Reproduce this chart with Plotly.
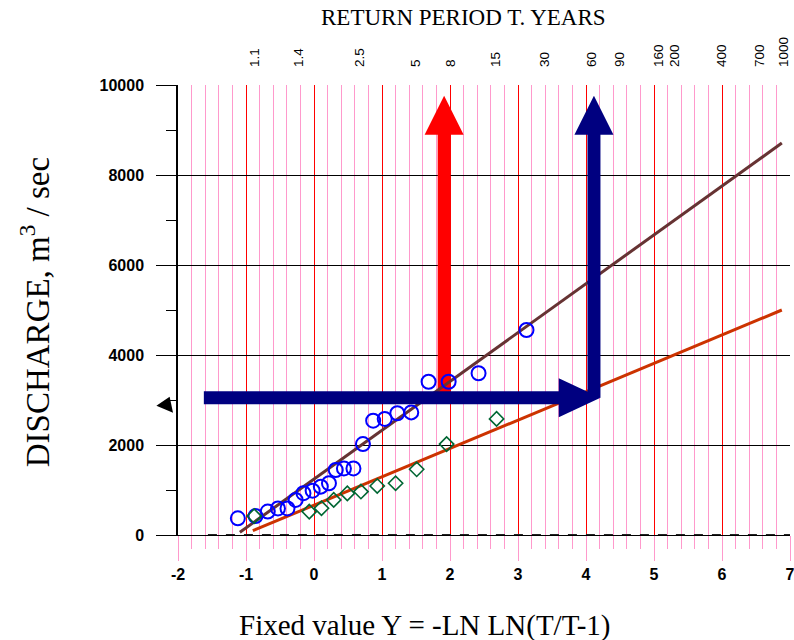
import math
import plotly.graph_objects as go

# Observed annual maximum floods: Gumbel reduced variate Y and discharge (m3/s)
obs_y = [-1.12, -0.86, -0.68, -0.53, -0.39, -0.27, -0.155, -0.02, 0.10, 0.22, 0.32,
         0.44, 0.58, 0.72, 0.87, 1.04, 1.225, 1.43, 1.685, 1.98, 2.42, 3.125]
obs_q = [370, 420, 520, 590, 590, 780, 930, 985, 1075, 1150, 1445,
         1480, 1480, 2020, 2540, 2580, 2705, 2725, 3405, 3405, 3595, 4555]

# Second series of annual maxima
alt_y = [-0.88, -0.07, 0.11, 0.29, 0.49, 0.69, 0.93, 1.20, 1.51, 1.95, 2.685]
alt_q = [420, 520, 595, 780, 925, 965, 1090, 1150, 1460, 2020, 2580]

# Fitted Gumbel lines (end points)
fit_obs_y = [-1.09, 6.88]
fit_obs_q = [60, 8710]
fit_alt_y = [-0.90, 6.88]
fit_alt_q = [95, 5000]

# Dashed base line along zero discharge
base_y = [-1.56, 7.0]
base_q = [0, 0]

# Return periods shown on the top axis
return_periods = [1.1, 1.4, 2.5, 5, 8, 15, 30, 60, 90, 160, 200, 400, 700, 1000]
return_labels = ["1.1", "1.4", "2.5", "5", "8", "15", "30", "60", "90", "160", "200", "400", "700", "1000"]

# Reading arrows: design discharge and the reduced variates
design_q = 3050
read_start_y = -1.62
read_obs_y = 1.914
read_alt_y = 4.117
arrow_top_q = 9760

x_ticks = [-2, -1, 0, 1, 2, 3, 4, 5, 6, 7]
x_ticktext = ["-2", "-1", "0", "1", "2", "3", "4", "5", "6", "7"]
y_ticks = [0, 2000, 4000, 6000, 8000, 10000]
y_ticktext = ["0", "2000", "4000", "6000", "8000", "10000"]

X_RANGE = [-2, 7]
Y_RANGE = [0, 10000]

PINK = "#ff99cc"
RED = "#ff0000"
NAVY = "#000080"
SERIF = "Liberation Serif"
SANS = "Liberation Sans"

def gumbel_variate(T):
    return -math.log(-math.log(1.0 - 1.0 / T))

fig = go.Figure()

fig.add_trace(go.Scatter(x=base_y, y=base_q, mode="lines",
                         line=dict(color="#222222", width=2, dash="dash"),
                         hoverinfo="skip"))
fig.add_trace(go.Scatter(x=fit_obs_y, y=fit_obs_q, mode="lines",
                         line=dict(color="#663333", width=3)))
fig.add_trace(go.Scatter(x=fit_alt_y, y=fit_alt_q, mode="lines",
                         line=dict(color="#cc3300", width=3)))
fig.add_trace(go.Scatter(x=obs_y, y=obs_q, mode="markers",
                         marker=dict(symbol="circle-open", size=14, color="#0000ff",
                                     line=dict(width=2, color="#0000ff"))))
fig.add_trace(go.Scatter(x=alt_y, y=alt_q, mode="markers",
                         marker=dict(symbol="diamond-open", size=11, color="#006633",
                                     line=dict(width=1.6, color="#006633"))))
# invisible trace to carry the return-period axis
fig.add_trace(go.Scatter(x=X_RANGE, y=[None, None], xaxis="x2", mode="lines",
                         showlegend=False, hoverinfo="skip"))

# ---- arrows drawn in data units ----
x_per_px = (X_RANGE[1] - X_RANGE[0]) / 612.0
q_per_px = (Y_RANGE[1] - Y_RANGE[0]) / 450.0
head_half_w = 19.5 * x_per_px
head_len_q = 39 * q_per_px
head_half_h = 19.5 * q_per_px
head_len_x = 41.7 * x_per_px
shaft_w = 13

shapes = []

def up_arrow(xc, color, layer):
    base = arrow_top_q - head_len_q
    shapes.append(dict(type="line", xref="x", yref="y", x0=xc, x1=xc,
                       y0=design_q, y1=base + 20, line=dict(color=color, width=shaft_w),
                       layer=layer))
    shapes.append(dict(type="path", xref="x", yref="y", layer=layer,
                       path=f"M {xc - head_half_w},{base} L {xc + head_half_w},{base} "
                            f"L {xc},{arrow_top_q} Z",
                       fillcolor=color, line=dict(width=0)))

up_arrow(read_obs_y, RED, "between")

tip_x = read_alt_y + 0.5 * shaft_w * x_per_px
shapes.append(dict(type="line", xref="x", yref="y", x0=read_start_y, x1=tip_x - head_len_x + 0.02,
                   y0=design_q, y1=design_q, line=dict(color=NAVY, width=shaft_w), layer="above"))
shapes.append(dict(type="path", xref="x", yref="y", layer="above",
                   path=f"M {tip_x - head_len_x},{design_q - head_half_h} "
                        f"L {tip_x - head_len_x},{design_q + head_half_h} L {tip_x},{design_q} Z",
                   fillcolor=NAVY, line=dict(width=0)))
up_arrow(read_alt_y, NAVY, "above")

# small pointer just outside the discharge axis
def px(v):
    return (v - X_RANGE[0]) / (X_RANGE[1] - X_RANGE[0])

def py(q):
    return (q - Y_RANGE[0]) / (Y_RANGE[1] - Y_RANGE[0])

shapes.append(dict(type="path", xref="paper", yref="paper", layer="above",
                   path=f"M {px(-2.318)},{py(2870)} L {px(-2.123)},{py(3075)} "
                        f"L {px(-2.073)},{py(2718)} Z",
                   fillcolor="black", line=dict(width=0)))

fig.update_layout(shapes=shapes)

fig.update_layout(
    width=794, height=640,
    margin=dict(l=178, r=4, t=85, b=105, autoexpand=False),
    paper_bgcolor="white", plot_bgcolor="white",
    showlegend=False,
    xaxis=dict(
        range=X_RANGE, tickmode="array", tickvals=x_ticks, ticktext=x_ticktext,
        showgrid=True, gridcolor=RED, gridwidth=1,
        ticks="outside", ticklen=25, tickcolor=PINK, tickwidth=1,
        minor=dict(dtick=0.2, tick0=0, showgrid=True, gridcolor=PINK, gridwidth=1,
                   ticks="outside", ticklen=13, tickcolor=PINK, tickwidth=1),
        showline=True, linecolor="black", linewidth=1,
        zeroline=False, ticklabeloverflow="allow", automargin=False,
        tickfont=dict(family=SANS, size=16, color="black", weight="bold"),
    ),
    xaxis2=dict(
        range=X_RANGE, overlaying="x", side="top", anchor="y",
        tickmode="array", tickvals=[gumbel_variate(t) for t in return_periods],
        ticktext=return_labels, tickangle=-90, ticks="",
        ticklabelstandoff=17, ticklabeloverflow="allow", automargin=False,
        showgrid=False, showline=False, zeroline=False,
        tickfont=dict(family=SANS, size=13.5, color="black"),
    ),
    yaxis=dict(
        range=Y_RANGE, tickmode="array", tickvals=y_ticks, ticktext=y_ticktext,
        showgrid=True, gridcolor="black", gridwidth=1,
        ticks="outside", ticklen=20, tickcolor="black", tickwidth=1,
        minor=dict(dtick=1000, tick0=0, ticks="outside", ticklen=10,
                   tickcolor="black", showgrid=False),
        showline=True, linecolor="black", linewidth=1.5,
        zeroline=False, ticklabelstandoff=9, automargin=False,
        tickfont=dict(family=SANS, size=16, color="black", weight="bold"),
    ),
    annotations=[
        dict(text="RETURN PERIOD T. YEARS", xref="paper", yref="paper",
             x=0.4657, y=1.149, xanchor="center", yanchor="middle", showarrow=False,
             font=dict(family=SERIF, size=23, color="black")),
        dict(text="Fixed value Y = -LN LN(T/T-1)", xref="paper", yref="paper",
             x=0.4036, y=-0.2, xanchor="center", yanchor="middle", showarrow=False,
             font=dict(family=SERIF, size=29, color="black")),
        dict(text="DISCHARGE, m<sup>3</sup> / sec", xref="paper", yref="paper",
             x=-0.2337, y=0.495, xanchor="center", yanchor="middle", showarrow=False,
             textangle=-90, font=dict(family=SERIF, size=33, color="black")),
    ],
)

fig.write_html("out.html")
